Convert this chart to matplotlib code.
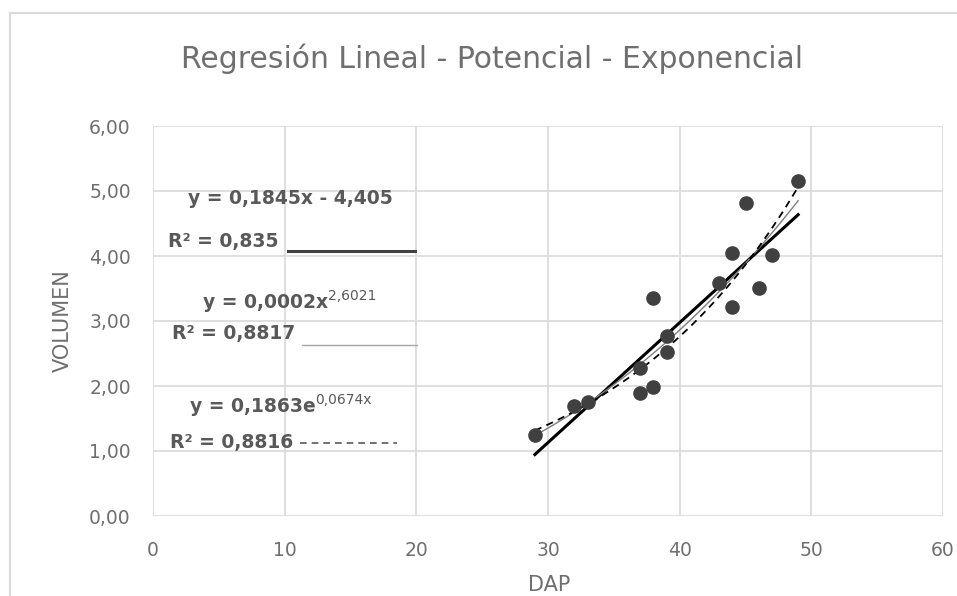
import numpy as np
import matplotlib
matplotlib.use("Agg")
from matplotlib import pyplot as plt
from matplotlib.patches import Rectangle
from matplotlib.ticker import FuncFormatter

# datos
dap = [29, 32, 33, 37, 37, 38, 38, 39, 39, 43, 44, 44, 45, 46, 47, 49]
volumen = [1.25, 1.70, 1.75, 1.90, 2.28, 1.98, 3.35, 2.52, 2.77,
           3.58, 4.05, 3.21, 4.82, 3.51, 4.02, 5.15]

# coeficientes de las lineas de tendencia
# (la etiqueta redondea el coef. potencial a 0,0002; la curva dibujada es algo menor)
lin_coef = [0.1845, -4.405]
pot_coef = [0.000194, 2.6021]
exp_coef = [0.1863, 0.0674]

eq_lin = "y = 0,1845x - 4,405"
r2_lin = "R² = 0,835"
eq_pot = "y = 0,0002x"
sup_pot = "2,6021"
r2_pot = "R² = 0,8817"
eq_exp = "y = 0,1863e"
sup_exp = "0,0674x"
r2_exp = "R² = 0,8816"

plt.rcParams['font.family'] = ['DejaVu Sans']
gray = "#595959"
light = "#6f6f6f"

fig = plt.figure(figsize=(9.57, 5.96), dpi=100)
ax = fig.add_axes([153 / 957, 1 - 516 / 596, 790 / 957, 390 / 596])

ax.set_xlim(0, 60)
ax.set_ylim(0, 6)
ax.set_xticks(range(0, 61, 10))
ax.set_yticks(range(0, 7))
ax.yaxis.set_major_formatter(FuncFormatter(lambda v, p: f"{v:.2f}".replace(".", ",")))
ax.grid(True, color="#d9d9d9", lw=1.2)
ax.set_axisbelow(True)
for s in ax.spines.values():
    s.set_visible(False)
ax.tick_params(length=0, colors=light, labelsize=13.5)
ax.tick_params(axis="x", pad=18)
ax.tick_params(axis="y", pad=16)

fig.text(549 / 957, 1 - 585 / 596, "DAP", ha="center", va="center",
         color=light, fontsize=15)
fig.text(63 / 957, 1 - 321 / 596, "VOLUMEN", ha="center", va="center",
         rotation=90, color=light, fontsize=15)
fig.text(492 / 957, 1 - 59 / 596, "Regresión Lineal - Potencial - Exponencial",
         ha="center", va="center", fontsize=21.5, color=light)

# puntos
ax.plot(dap, volumen, "o", color="#404040", ms=9.5, zorder=5)

# lineas de tendencia
xs = np.linspace(min(dap), max(dap), 100)
ax.plot(xs, lin_coef[0] * xs + lin_coef[1], color="black", lw=2.2, zorder=4)
ax.plot(xs, pot_coef[0] * xs ** pot_coef[1], color="#7f7f7f", lw=1.0, zorder=4)
ax.plot(xs, exp_coef[0] * np.exp(exp_coef[1] * xs), color="black", lw=1.3,
        dashes=(4, 3), zorder=4)

# etiquetas de las lineas
kw = dict(color=gray, fontsize=13.5, fontweight="bold", va="center")
ax.text(2.66, 4.88, eq_lin, ha="left", **kw)
ax.text(1.14, 4.23, r2_lin, ha="left", **kw)
ax.plot([10.25, 19.9], [4.07, 4.07], color="#404040", lw=2.2, clip_on=False)

t = ax.text(3.8, 3.29, eq_pot, ha="left", **kw)
ax.annotate(sup_pot, xy=(1.0, 0.85), xycoords=t, ha="left", va="center",
            color=gray, fontsize=10)
ax.text(1.44, 2.80, r2_pot, ha="left", **kw)
ax.plot([11.3, 20.05], [2.63, 2.63], color="#a6a6a6", lw=1.0, clip_on=False)

t = ax.text(2.8, 1.68, eq_exp, ha="left", **kw)
ax.annotate(sup_exp, xy=(1.0, 0.85), xycoords=t, ha="left", va="center",
            color=gray, fontsize=10)
ax.text(1.29, 1.13, r2_exp, ha="left", **kw)
ax.plot([11.2, 18.5], [1.13, 1.13], color="#595959", lw=1.2, dashes=(4, 3),
        clip_on=False)

# borde del area del grafico
fig.patches.append(Rectangle((10 / 957, -0.1), 2, 1.1 - 13 / 596,
                             transform=fig.transFigure, fill=False,
                             edgecolor="#d9d9d9", lw=1.5))

fig.savefig("out.png", dpi=100)
